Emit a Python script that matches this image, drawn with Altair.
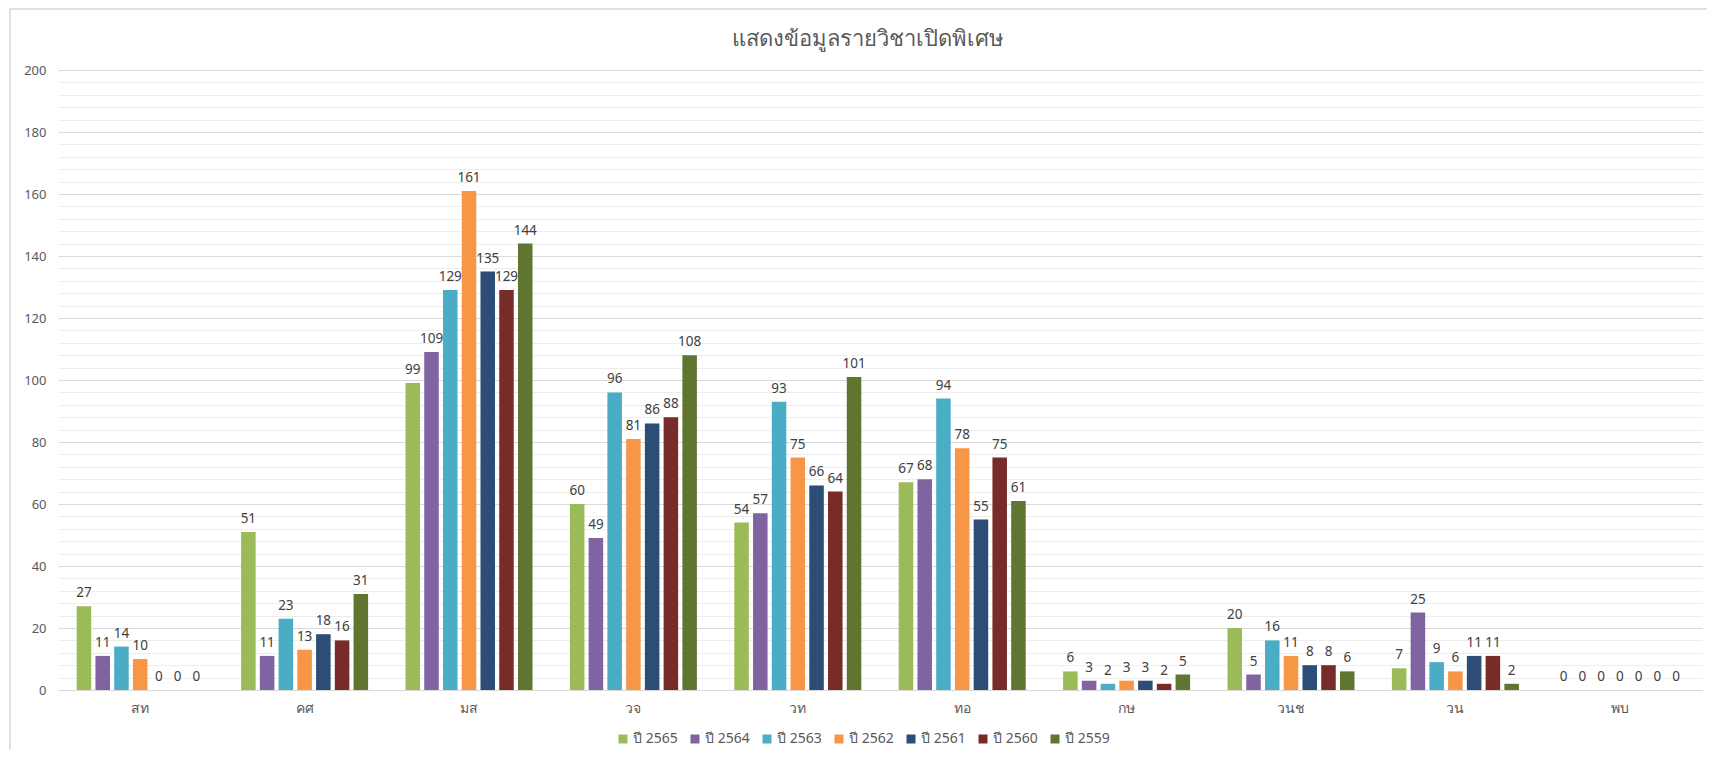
import altair as alt
import pandas as pd

categories = ["สท", "คศ", "มส", "วจ", "วท", "ทอ", "กษ", "วนช", "วน", "พบ"]
series_names = ["ปี 2565", "ปี 2564", "ปี 2563", "ปี 2562", "ปี 2561", "ปี 2560", "ปี 2559"]
y2565 = [27, 51, 99, 60, 54, 67, 6, 20, 7, 0]
y2564 = [11, 11, 109, 49, 57, 68, 3, 5, 25, 0]
y2563 = [14, 23, 129, 96, 93, 94, 2, 16, 9, 0]
y2562 = [10, 13, 161, 81, 75, 78, 3, 11, 6, 0]
y2561 = [0, 18, 135, 86, 66, 55, 3, 8, 11, 0]
y2560 = [0, 16, 129, 88, 64, 75, 2, 8, 11, 0]
y2559 = [0, 31, 144, 108, 101, 61, 5, 6, 2, 0]
colors = ["#9BBB59", "#8064A2", "#4BACC6", "#F79646", "#2C4D75", "#772C2A", "#5F7530"]
title_text = "แสดงข้อมูลรายวิชาเปิดพิเศษ"

series_values = [y2565, y2564, y2563, y2562, y2561, y2560, y2559]
rows = []
for name, vals in zip(series_names, series_values):
    for c, v in zip(categories, vals):
        rows.append({"cat": c, "series": name, "value": v})
df = pd.DataFrame(rows)

FONT = "Noto Sans"
major_ticks = list(range(0, 201, 20))
minor_ticks = [v for v in range(0, 201, 4) if v % 20]

x_enc = alt.X("cat:N", sort=categories, title=None,
              scale=alt.Scale(paddingInner=0.2275, paddingOuter=0.11375),
              axis=alt.Axis(labelAngle=0, labelFontSize=14, labelColor="#595959",
                            labelFont=FONT, labelPadding=11, ticks=False,
                            domainColor="#D9D9D9", domainWidth=1.2, grid=False))
xoff = alt.XOffset("series:N", sort=series_names,
                   scale=alt.Scale(paddingInner=0.225, paddingOuter=0))
yscale = alt.Scale(domain=[0, 200], nice=False)

bars = alt.Chart(df).mark_bar().encode(
    x=x_enc,
    xOffset=xoff,
    y=alt.Y("value:Q", scale=yscale, title=None,
            axis=alt.Axis(values=major_ticks, labelFontSize=13, labelColor="#595959",
                          labelFont=FONT, labelPadding=12, ticks=False, domain=False,
                          grid=True, gridColor="#D9D9D9", gridWidth=1.2)),
    color=alt.Color("series:N", sort=series_names,
                    scale=alt.Scale(domain=series_names, range=colors),
                    legend=alt.Legend(title=None, orient="none", direction="horizontal",
                                      legendX=558, legendY=662, symbolType="square",
                                      symbolSize=81, symbolStrokeWidth=0,
                                      labelFontSize=14, labelColor="#595959",
                                      labelFont=FONT, columnPadding=10,
                                      symbolOffset=0, labelOffset=3)),
)

labels = alt.Chart(df).mark_text(baseline="bottom", dy=-6, fontSize=13.5,
                                 color="#404040", font=FONT).encode(
    x=alt.X("cat:N", sort=categories),
    xOffset=xoff,
    y=alt.Y("value:Q", scale=yscale, title=None,
            axis=alt.Axis(values=minor_ticks, orient="right", labels=False,
                          ticks=False, domain=False, grid=True,
                          gridColor="#EDEDED", gridWidth=1)),
    text="value:Q",
)

frame_df = pd.DataFrame({"k": [0]})
left_border = alt.Chart(frame_df).mark_rule(color="#D9D9D9", strokeWidth=1.5).encode(
    x=alt.value(-48), y=alt.value(-61), y2=alt.value(800))
top_border = alt.Chart(frame_df).mark_rule(color="#D9D9D9", strokeWidth=1.5).encode(
    x=alt.value(-48), x2=alt.value(1700), y=alt.value(-61))
title_mark = alt.Chart(frame_df).mark_text(
    fontSize=22, color="#595959", font=FONT, align="center", baseline="middle"
).encode(x=alt.value(810), y=alt.value(-31), text=alt.value(title_text))

chart = alt.layer(left_border, top_border, title_mark, bars, labels).resolve_axis(
    y="independent"
).properties(
    width=1644, height=620,
    padding={"left": 50, "top": 62, "right": 5, "bottom": 60},
    autosize=alt.AutoSizeParams(type="none"),
).configure_view(stroke=None)

chart.save("out.html", embed_options={"renderer": "svg", "actions": False})
